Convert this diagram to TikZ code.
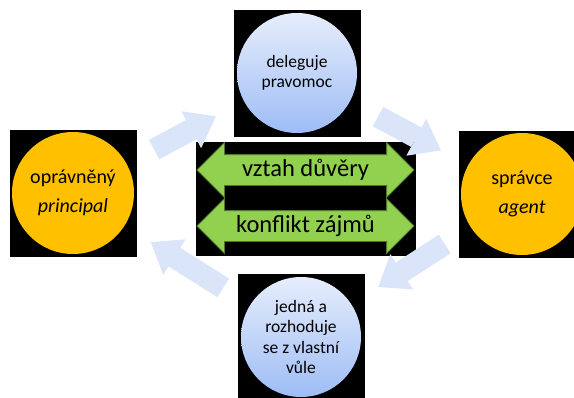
\documentclass[tikz,border=0pt]{standalone}
\usepackage{fontspec}
\setmainfont{Carlito}
\usetikzlibrary{shapes.arrows,arrows.meta}
\definecolor{gold}{RGB}{255,192,0}
\definecolor{leafgreen}{RGB}{146,208,80}
\definecolor{leafedge}{RGB}{80,120,45}
\definecolor{skytop}{RGB}{230,237,252}
\definecolor{skybot}{RGB}{158,189,245}
\definecolor{flowblue}{RGB}{218,229,250}
\begin{document}
\begin{tikzpicture}[x=1pt,y=-1pt,
  frame/.style={fill=black, minimum size=127pt, inner sep=0pt},
  golddisc/.style={circle, fill=gold, minimum size=122pt, inner sep=0pt, align=center,
    font=\fontsize{20}{29}\selectfont},
  skydisc/.style={circle, top color=skytop, bottom color=skybot, minimum size=120pt,
    inner sep=0pt, align=center, font=\fontsize{17.5}{20.5}\selectfont},
  bond/.style={double arrow, fill=leafgreen, draw=leafedge, line width=0.8pt,
    minimum height=217pt, double arrow head extend=12pt, inner xsep=0pt, inner ysep=4pt,
    text height=17pt, text depth=5pt, font=\fontsize{24.5}{28}\selectfont},
  flow/.style={line width=22pt, draw=flowblue,
    -{Triangle[width=42pt,length=28pt,line width=0pt]}, shorten <=92pt, shorten >=92pt}]
  \clip (0,0) rectangle (574,397);
  \useasboundingbox (0,0) rectangle (574,397);

  % Black frames
  \node[frame] (principalbox) at (73,193) {};
  \node[frame] (delegatebox) at (297,73) {};
  \node[frame] (agentbox) at (522,194) {};
  \node[frame] (freewillbox) at (301,337) {};
  \fill[black] (196,142) rectangle (416,256);

  % Discs
  \node[golddisc] (principal) at (principalbox) {opr\'avn\v{e}n\'y\\\textit{principal}};
  \node[skydisc] (delegate) at (delegatebox) {deleguje\\pravomoc};
  \node[golddisc] (agent) at (agentbox) {spr\'avce\\\textit{agent}};
  \node[skydisc] (freewill) at (freewillbox) {jedn\'a a\\rozhoduje\\se z vlastn\'{\i}\\v\r{u}le};

  % Flow around the cycle
  \draw[flow] (principal.center) -- (delegate.center);
  \draw[flow] (delegate.center) -- (agent.center);
  \draw[flow] (agent.center) -- (freewill.center);
  \draw[flow] (freewill.center) -- (principal.center);

  % Two-way relations
  \node[bond] (trust) at (305.5,170) {vztah d\r{u}v\v{e}ry};
  \node[bond] (conflict) at (305.5,226) {konflikt z\'ajm\r{u}};
\end{tikzpicture}
\end{document}
